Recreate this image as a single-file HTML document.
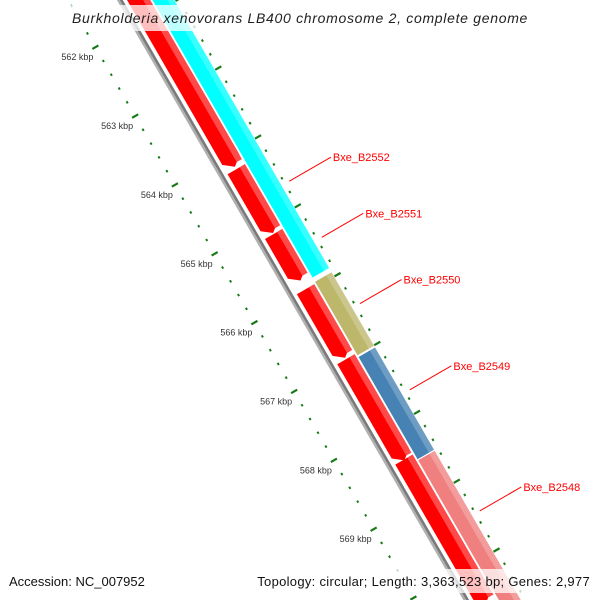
<!DOCTYPE html>
<html><head><meta charset="utf-8"><style>
html,body{margin:0;padding:0;background:#fff;width:600px;height:600px;overflow:hidden;}
svg{display:block;font-family:"Liberation Sans",sans-serif;overflow:hidden;}
</style></head><body>
<svg id="map" width="600" height="600" viewBox="0 0 600 600" xmlns="http://www.w3.org/2000/svg">
<g id="layer"></g>
<rect x="60" y="5" width="480" height="26" fill="rgba(255,255,255,0.75)"/>
<text x="300" y="23" text-anchor="middle" font-size="14" font-style="italic" letter-spacing="0.7" fill="#222">Burkholderia xenovorans LB400 chromosome 2, complete genome</text>
<rect x="0" y="569" width="600" height="24" fill="rgba(255,255,255,0.75)"/>
<text x="9" y="586" font-size="13" fill="#111">Accession: NC_007952</text>
<text x="590" y="586" text-anchor="end" font-size="13" letter-spacing="0.3" fill="#111">Topology: circular; Length: 3,363,523 bp; Genes: 2,977</text>
</svg>
<script>
const geneStarts=[561000,564215,565156,565958,566975,568433];
const geneEnds=[564180,565142,565832,566954,568444,570505];
const geneLabels=["","Bxe_B2552","Bxe_B2551","Bxe_B2550","Bxe_B2549","Bxe_B2548"];
const outerStarts=[561000,565936,567030,568530];
const outerEnds=[565875,567004,568515,571000];
const outerColors=["#00ffff","#bdb76b","#4682b4","#f08080"];
const tickLabels=[562,563,564,565,566,567,568,569,570];
const NS="http://www.w3.org/2000/svg";
const layer=document.getElementById('layer');
function pt(bp,v){const u=168.1+(bp-563000)*0.0795;const d=(u-400)/1000;v=v-12*d*d*0;return [0.5*u+0.866*v,0.866*u-0.5*v];}
function mk(tag,attrs){const e=document.createElementNS(NS,tag);for(const k in attrs)e.setAttribute(k,attrs[k]);layer.appendChild(e);return e;}
function poly(list){return list.map(p=>p[0].toFixed(1)+','+p[1].toFixed(1)).join(' ');}
let a=pt(560000,102.5),b=pt(572000,102.5);
let bb1=mk('line',{x1:a[0],y1:a[1],x2:b[0],y2:b[1],stroke:'#b0b0b0','stroke-width':2.6});


a=pt(560000,105);b=pt(572000,105);
let bb2=mk('line',{x1:a[0],y1:a[1],x2:b[0],y2:b[1],stroke:'#7a7a7a','stroke-width':2.6});


const ah=100;
for(let i=0;i<geneStarts.length;i++){
  const s=geneStarts[i],e=geneEnds[i],v0=110,v1=130,vm=120;
  const g=mk('polygon',{points:poly([pt(s,v0),pt(e-ah,v0),pt(e,vm),pt(e-ah,v1),pt(s,v1)]),fill:'#ff0000'});
  
  
  const h=mk('polygon',{points:poly([pt(s,124),pt(e-ah*0.4,124),pt(e-ah*0.4,130),pt(s,130)]),fill:'#ff4a4a'});
  
  
  if(geneLabels[i]){
    const m=(s+e)/2,p1=pt(m,160),p2=pt(m,208);
    const l=mk('line',{x1:p1[0],y1:p1[1],x2:p2[0],y2:p2[1],stroke:'#ff0000','stroke-width':1});
    
    
    const t=mk('text',{x:p2[0]+2,y:p2[1]+4,'font-size':11,fill:'#ff0000'});
    t.textContent=geneLabels[i];
    
    
  }
}
for(let i=0;i<outerStarts.length;i++){
  const s=outerStarts[i],e=outerEnds[i];
  const g=mk('polygon',{points:poly([pt(s,132),pt(e,132),pt(e,151),pt(s,151)]),fill:outerColors[i]});
  
  
  const h=mk('polygon',{points:poly([pt(s,145),pt(e,145),pt(e,151),pt(s,151)]),fill:'rgba(255,255,255,0.22)'});
  
  
}
for(let bp=561000;bp<=571000;bp+=200){
  const major=bp%1000===0;
  [[59,'inner'],[155,'outer']].forEach(([vc,nm])=>{
    const half=major?3.5:1;
    const p1=pt(bp,vc-half),p2=pt(bp,vc+half);
    const t=mk('line',{x1:p1[0],y1:p1[1],x2:p2[0],y2:p2[1],stroke:'#177a17','stroke-width':major?2.2:2.4});
    
    
  });
}
tickLabels.forEach(k=>{
  const p=pt(k*1000,59);
  const t=mk('text',{x:p[0]-2,y:p[1]+13,'text-anchor':'end','font-size':9,fill:'#333'});
  t.textContent=k+' kbp';
  
  
});
</script>
</body></html>
